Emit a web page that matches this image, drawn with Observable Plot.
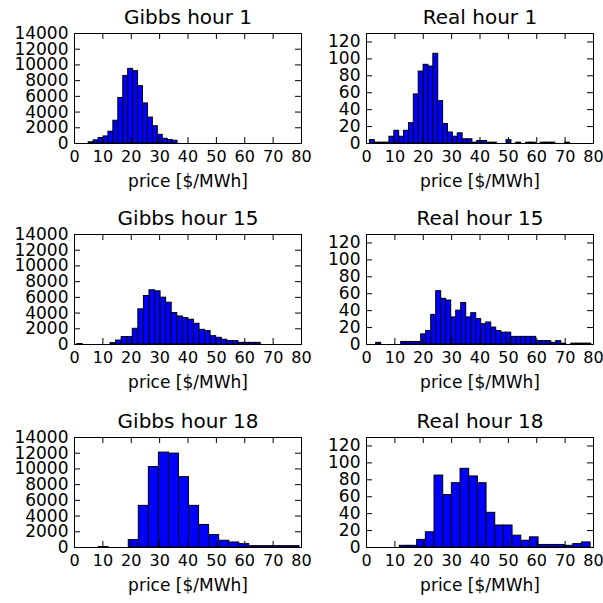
<!DOCTYPE html>
<html><head><meta charset="utf-8">
<script src="https://cdn.jsdelivr.net/npm/d3@7"></script>
<script src="https://cdn.jsdelivr.net/npm/@observablehq/plot@0.6"></script>
<style>
body{margin:0;background:#fff;}
#chart{position:relative;width:603px;height:603px;background:#fff;overflow:hidden;}
#chart svg{position:absolute;}
</style></head><body><div id="chart"></div>
<script>
const titles = ["Gibbs hour 1", "Real hour 1", "Gibbs hour 15", "Real hour 15", "Gibbs hour 18", "Real hour 18"];
const xLabel = "price [$/MWh]";
const xTicks = [0, 10, 20, 30, 40, 50, 60, 70, 80];
const gibbsTicks = [0, 2000, 4000, 6000, 8000, 10000, 12000, 14000];
const realTicks = [0, 20, 40, 60, 80, 100, 120];
const gibbsMax = 14000;
const realMax = 130;

// histogram bin start and bin width for each panel (price, $/MWh)
const binStart = [5.0, 1.2, 0.94, 3.41, 8.5, 11.75];
const binWidth = [1.74, 1.72, 1.96, 1.763, 3.54, 3.056];

// counts per bin
const gibbs1 = [150, 400, 700, 900, 1500, 2900, 5800, 8600, 9500, 9200, 7300, 5100, 3300, 2200, 1100, 600, 450, 350];
const real1 = [4, 1, 1, 1, 8, 15, 8, 15, 24, 58, 85, 93, 91, 106, 50, 23, 13, 8, 12, 5, 5, 1, 3, 3, 1, 1, 0, 0, 4, 0, 1, 0, 1, 1, 0, 1, 1, 1, 0, 0, 1];
const gibbs15 = [50, 0, 0, 0, 0, 0, 170, 500, 940, 940, 2000, 4470, 6170, 6900, 6770, 5960, 5320, 4000, 3570, 3360, 3150, 2640, 1870, 1700, 1060, 850, 600, 430, 430, 210, 210, 210, 210];
const real15 = [2, 0, 0, 0, 0, 3, 3, 3, 3, 12, 16, 35, 63, 54, 52, 32, 40, 49, 32, 37, 30, 24, 26, 20, 16, 14, 14, 9, 9, 9, 9, 9, 4, 4, 4, 2, 4, 1, 0, 1, 1, 1, 1];
const gibbs18 = [50, 0, 0, 940, 5300, 10240, 12080, 11950, 8950, 5300, 2870, 1580, 860, 640, 430, 170, 170, 170, 170, 170];
const real18 = [2, 2, 9, 18, 85, 62, 76, 93, 84, 76, 41, 26, 26, 14, 8, 12, 3, 3, 3, 2, 4, 6];

const panels = [
  {counts: gibbs1, ticks: gibbsTicks, max: gibbsMax},
  {counts: real1, ticks: realTicks, max: realMax},
  {counts: gibbs15, ticks: gibbsTicks, max: gibbsMax},
  {counts: real15, ticks: realTicks, max: realMax},
  {counts: gibbs18, ticks: gibbsTicks, max: gibbsMax},
  {counts: real18, ticks: realTicks, max: realMax}
];

const colLeft = [0, 292];
const rowTop = [0, 201, 404];
const PW = 227, PH = 110, TS = 6;
const container = document.getElementById("chart");

panels.forEach((p, i) => {
  const start = binStart[i], w = binWidth[i];
  const bins = p.counts.map((c, k) => ({x1: start + k * w, x2: start + (k + 1) * w, y: c}));
  const svg = Plot.plot({
    width: 74 + PW + 14,
    height: 33 + PH + 60,
    marginLeft: 74, marginRight: 14, marginTop: 33, marginBottom: 60,
    style: {background: "transparent", overflow: "visible", fontFamily: "DejaVu Sans", color: "black"},
    x: {domain: [0, 80]},
    y: {domain: [0, p.max]},
    marks: [
      Plot.rectY(bins, {x1: "x1", x2: "x2", y: "y", fill: "#0000ff", stroke: "black", strokeWidth: 1}),
      Plot.frame({stroke: "black", strokeWidth: 1}),
      Plot.tickX(xTicks, {x: d => d, insetTop: PH - TS, stroke: "black"}),
      Plot.tickX(xTicks, {x: d => d, insetBottom: PH - TS, stroke: "black"}),
      Plot.tickY(p.ticks, {y: d => d, insetLeft: PW - TS, stroke: "black"}),
      Plot.tickY(p.ticks, {y: d => d, insetRight: PW - TS, stroke: "black"}),
      Plot.axisX(xTicks, {tickSize: 0, tickPadding: 7, label: null, fontSize: 16, tickFormat: d => String(d)}),
      Plot.axisY(p.ticks, {tickSize: 0, tickPadding: 6, label: null, fontSize: 17, tickFormat: d => String(d)}),
      Plot.text([titles[i]], {text: d => d, frameAnchor: "top", lineAnchor: "bottom", dy: -10, fontSize: 20}),
      Plot.text([xLabel], {text: d => d, frameAnchor: "bottom", lineAnchor: "bottom", dy: 43, fontSize: 17})
    ]
  });
  svg.style.left = colLeft[i % 2] + "px";
  svg.style.top = rowTop[Math.floor(i / 2)] + "px";
  container.appendChild(svg);
});
</script>
</body></html>
